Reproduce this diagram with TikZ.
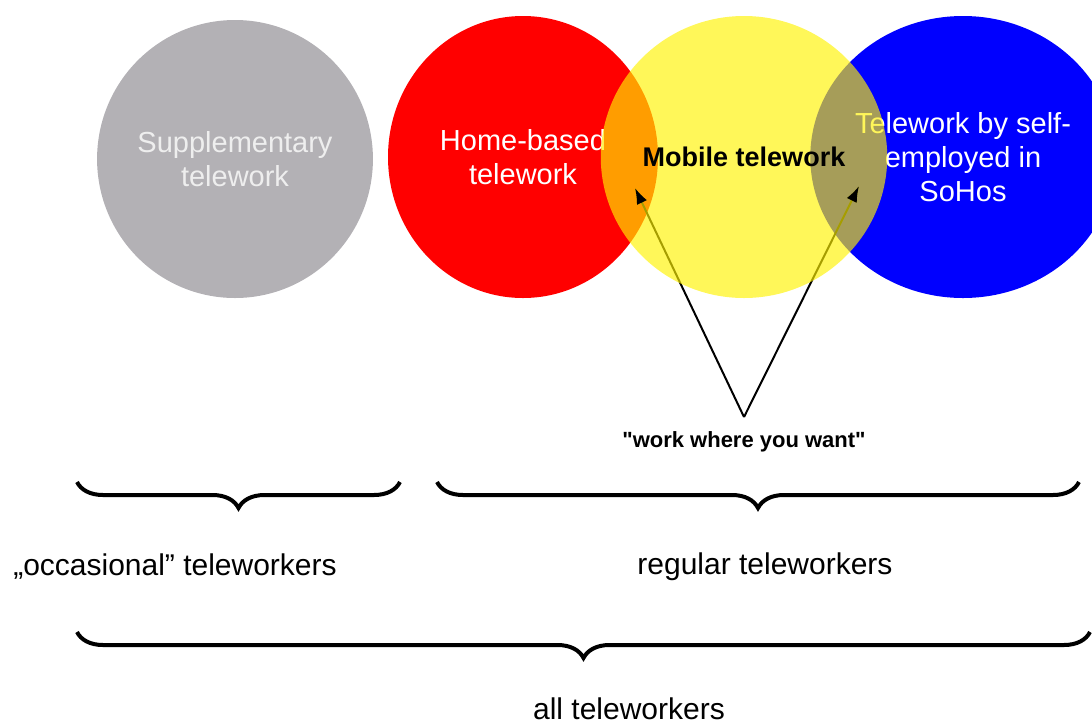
\documentclass[tikz,border=0pt]{standalone}
\usepackage{fontspec}
\setmainfont{Liberation Sans}
\usetikzlibrary{shapes.geometric,arrows.meta,decorations.pathreplacing,calc}
\definecolor{suppgray}{RGB}{179,177,181}
\definecolor{supptext}{RGB}{238,238,238}
\newcommand\plainquote{\XeTeXglyph\XeTeXcharglyph"22\relax}
\begin{document}
\begin{tikzpicture}[x=1pt,y=-1pt,
	area/.style={ellipse,draw=none,inner sep=0pt,minimum width=270pt,minimum height=282pt,align=center,font=\fontsize{29}{34}\selectfont},
	pointer/.style={-{Latex[length=16pt,width=11pt]},line width=2pt},
	groupbrace/.style={decorate,decoration={brace,mirror,amplitude=26pt},line width=4pt},
	grouplabel/.style={font=\fontsize{30}{36}\selectfont}]
	\clip (0,0) rectangle (1092,724);
	\node [area,fill=suppgray,text=supptext,minimum width=272pt,minimum height=278pt] (supp) at (235,159) {Supplementary\\telework};
	\node [area,fill=red,text=white] (home) at (523,157) {Home-based\\telework};
	\node [area,fill=blue,text=white] (soho) at (963,157) {Telework by self-\\employed in\\SoHos};
	\node [font=\bfseries\fontsize{22}{26}\selectfont] (wish) at (744,442) {\plainquote work where you want\plainquote};
	\coordinate (apex) at (744,417);
	\coordinate (homeTip) at (635,188);
	\coordinate (sohoTip) at (859,186);
	\draw [pointer] (apex) -- (homeTip);
	\draw [pointer] (apex) -- (sohoTip);
	\node [area,fill=yellow,fill opacity=0.65,text opacity=1,font=\bfseries\fontsize{27}{32}\selectfont] (mobile) at (744,157) {Mobile telework};
	\foreach \t in {homeTip,sohoTip}
		\draw [pointer] ($(\t)!12pt!(apex)$) -- (\t);
	\foreach \a/\b in {77/400,437/1079}
		\draw [groupbrace] (\a,482) -- (\b,482);
	\draw [groupbrace] (77,632) -- (1090,632);
	\node [grouplabel] (occasional) at (175,567) {„occasional” teleworkers};
	\node [grouplabel] (regular) at (765,567) {regular teleworkers};
	\node [grouplabel] (all) at (629,709) {all teleworkers};
\end{tikzpicture}
\end{document}
